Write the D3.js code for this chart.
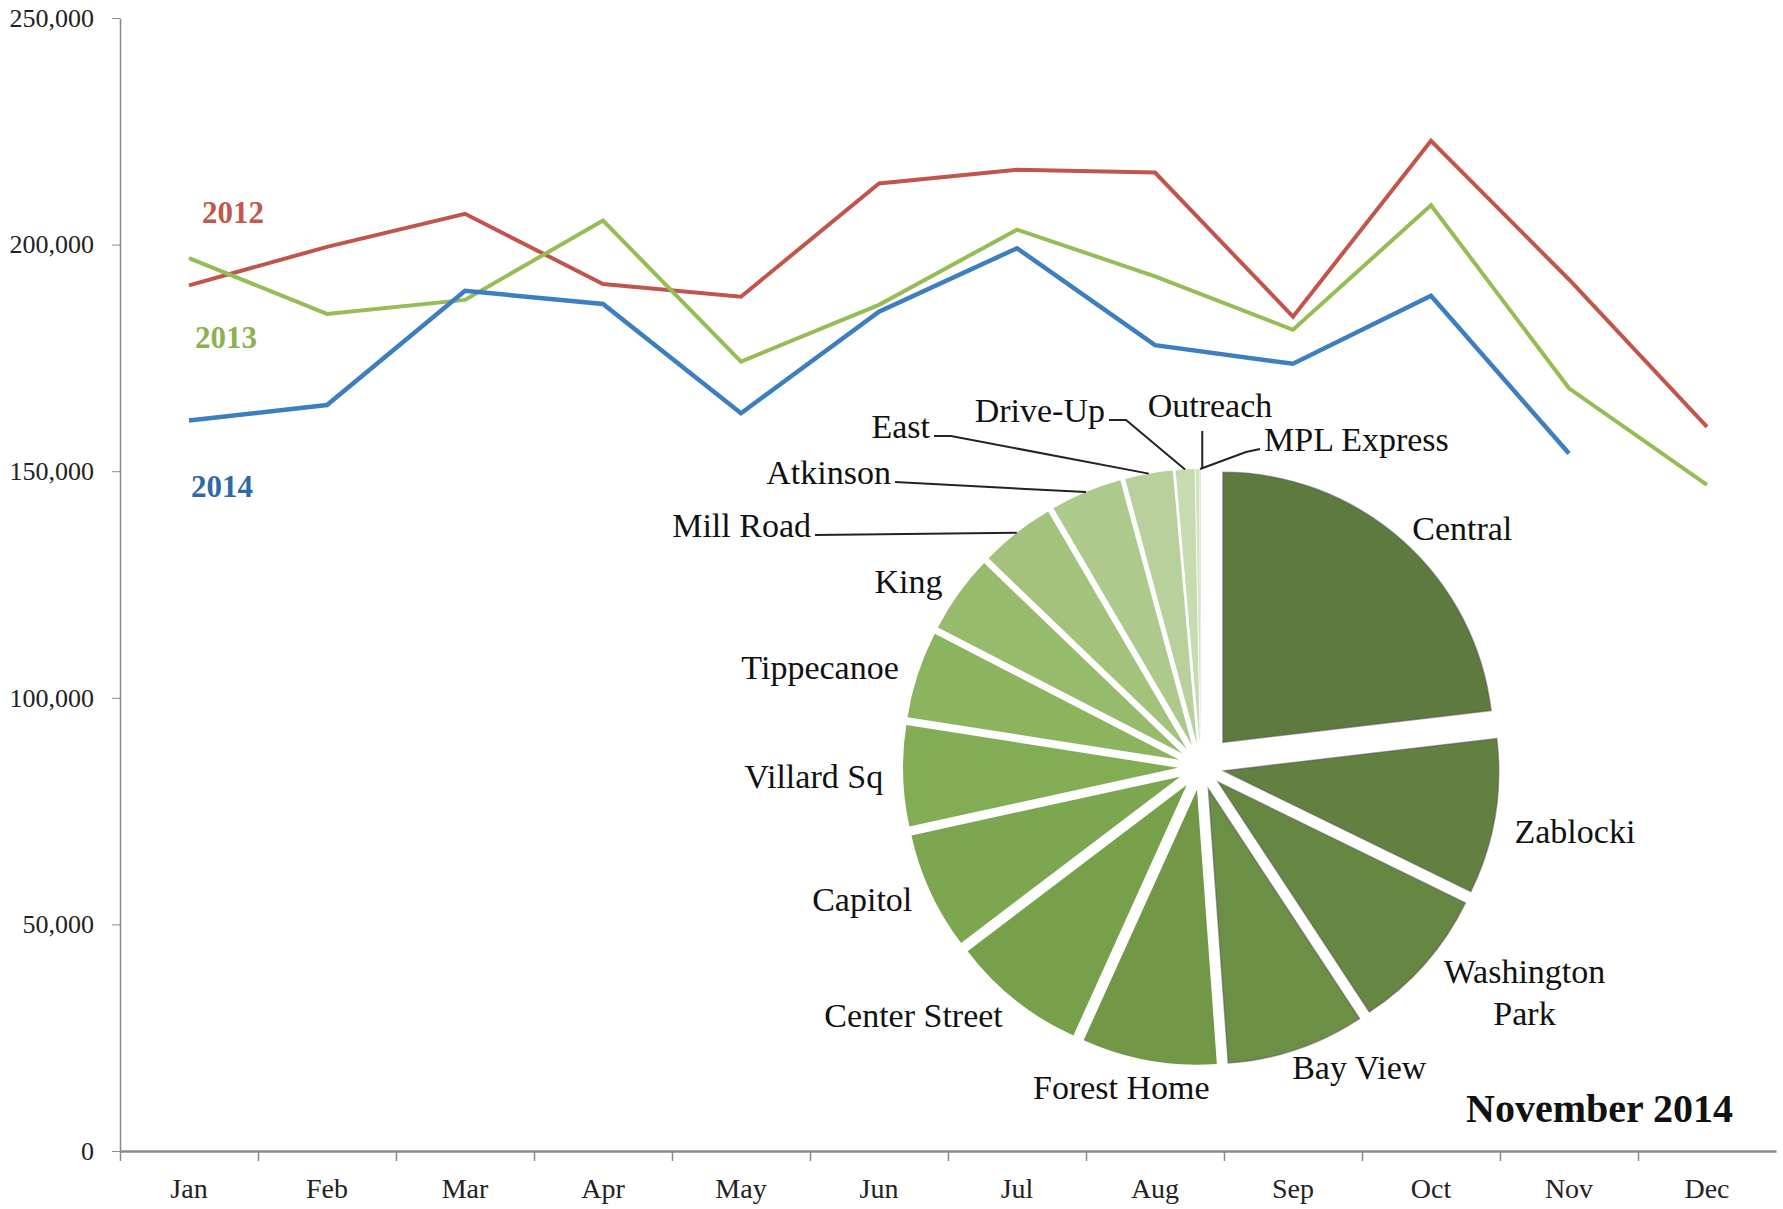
<!DOCTYPE html>
<html>
<head>
<meta charset="utf-8">
<title>Circulation by month</title>
<script src="https://d3js.org/d3.v7.min.js"></script>
<style>
  body { margin:0; background:#fff; }
  svg { display:block; font-family:"Liberation Serif", serif; }
  .axis path, .axis line { stroke:#8a8a8a; }
  .axis text { font-family:"Liberation Serif", serif; fill:#222; }
  .yaxis text { font-size:26px; }
  .xaxis text { font-size:28px; }
  .slice-label { font-size:34px; fill:#111; }
  .leader { fill:none; stroke:#222; stroke-width:2; }
</style>
</head>
<body>
<script>
"use strict";

// line chart data
var months = ["Jan", "Feb", "Mar", "Apr", "May", "Jun", "Jul", "Aug", "Sep", "Oct", "Nov", "Dec"];
var yTicks = [0, 50000, 100000, 150000, 200000, 250000];
var years = ["2012", "2013", "2014"];
var circ2012 = [191000, 199500, 206800, 191300, 188500, 213500, 216500, 215900, 184100, 222900, 192300, 159800];
var circ2013 = [197000, 184700, 187800, 205300, 174200, 186700, 203300, 193000, 181200, 208700, 168300, 147000];
var circ2014 = [161200, 164600, 189800, 186900, 162800, 185200, 199200, 177800, 173700, 188700, 153900];

// pie data (share of November 2014, %)
var branches = ["Central", "Zablocki", "Washington Park", "Bay View", "Forest Home", "Center Street",
  "Capitol", "Villard Sq", "Tippecanoe", "King", "Mill Road", "Atkinson", "East", "Drive-Up",
  "Outreach", "MPL Express"];
var shares = [23.1, 9.1, 8.5, 8.1, 7.9, 7.9, 6.9, 5.9, 5.1, 4.6, 4.4, 4.2, 2.8, 1.1, 0.2, 0.1];
var pieTitle = "November 2014";

// styles
var W = 1783, H = 1209;
var lineColors = ["#c2554b", "#96bd55", "#3c7ebf"];
var labelColors = ["#c0584c", "#8cb052", "#2e6aa6"];
var labelValues = [207000, 179400, 146500];   // vertical placement of the year labels
var labelShift = [3, -4, -8];                 // horizontal nudge of the year labels
var sliceColors = ["#5e7a3f", "#62803f", "#668741", "#6b8f45", "#729747", "#77a04b", "#7ca64f",
  "#83ad55", "#8cb45f", "#97bb6c", "#a3c37c", "#adc98c", "#b8d09c", "#c6dbaf", "#d2e3bf", "#dce9cd"];

var svg = d3.select("body").append("svg").attr("width", W).attr("height", H);

var x = d3.scaleBand().domain(months).range([120, 1776]);
var y = d3.scaleLinear().domain([0, 250000]).range([1151, 18]);
var bw = x.bandwidth();

// y axis
var yAxis = svg.append("g").attr("class", "axis yaxis").attr("transform", "translate(120,0)")
  .call(d3.axisLeft(y).tickValues(yTicks).tickFormat(d3.format(",")).tickSize(8).tickPadding(18).tickSizeOuter(0));
yAxis.select(".domain").attr("stroke-width", 1.5);

// x axis: tick marks on band edges, labels on band centres
var xEdges = d3.scaleLinear().domain([0, 12]).range([120, 1776]);
var xTicks = svg.append("g").attr("class", "axis").attr("transform", "translate(0,1151)")
  .call(d3.axisBottom(xEdges).tickValues(d3.range(0, 12)).tickFormat("").tickSize(10).tickSizeOuter(0));
xTicks.select(".domain").attr("stroke-width", 2.5);
xTicks.selectAll(".tick line").attr("stroke-width", 1.5);

var xLabels = svg.append("g").attr("class", "axis xaxis").attr("transform", "translate(0,1151)")
  .call(d3.axisBottom(x).tickSize(0).tickPadding(27));
xLabels.select(".domain").remove();

// lines
var series = [circ2012, circ2013, circ2014];
var line = d3.line()
  .x(function (d, i) { return x(months[i]) + bw / 2; })
  .y(function (d) { return y(d); });

svg.selectAll("path.series").data(series).enter().append("path")
  .attr("class", "series")
  .attr("d", line)
  .attr("fill", "none")
  .attr("stroke", function (d, i) { return lineColors[i]; })
  .attr("stroke-width", function (d, i) { return i === 2 ? 4.5 : 4; })
  .attr("stroke-linejoin", "miter");

svg.selectAll("text.year").data(years).enter().append("text")
  .attr("class", "year")
  .attr("x", function (d, i) { return x("Jan") + bw / 2 + 10 + labelShift[i]; })
  .attr("y", function (d, i) { return y(labelValues[i]); })
  .attr("dy", "0.33em")
  .attr("font-size", 31)
  .attr("font-weight", "bold")
  .attr("fill", function (d, i) { return labelColors[i]; })
  .text(function (d) { return d; });

// pie
var cx = 1201, cy = 767;
var pie = d3.pie().sort(null).value(function (d) { return d; });
var arcs = pie(shares);

function radiusOf(i) { return i === 0 ? 270 : 275; }
function explodeOf(i) { return i === 0 ? 33 : 23; }
function mid(a) { return (a.startAngle + a.endAngle) / 2; }

var pieG = svg.append("g").attr("transform", "translate(" + cx + "," + cy + ")");

pieG.selectAll("path.slice").data(arcs).enter().append("path")
  .attr("class", "slice")
  .attr("transform", function (d, i) {
    var m = mid(d), e = explodeOf(i);
    return "translate(" + (Math.sin(m) * e) + "," + (-Math.cos(m) * e) + ")";
  })
  .attr("d", function (d, i) { return d3.arc().innerRadius(0).outerRadius(radiusOf(i))(d); })
  .attr("fill", function (d, i) { return sliceColors[i]; })
  .attr("stroke", function (d, i) { return i < 4 ? "#555" : "none"; })
  .attr("stroke-opacity", 0.55)
  .attr("stroke-width", 1.5);

// point on the outer arc of a slice, in pie coordinates
function outerPoint(d, i) {
  var m = mid(d), r = radiusOf(i) + explodeOf(i);
  return [Math.sin(m) * r, -Math.cos(m) * r];
}

// labels with leader lines for the small slices at the top
var leaderLayout = {
  "Mill Road":   { dx: -390, dy: -230, anchor: "end", elbow: 0 },
  "Atkinson":    { dx: -310, dy: -283, anchor: "end", elbow: 0 },
  "East":        { dx: -271, dy: -329, anchor: "end", elbow: 17 },
  "Drive-Up":    { dx: -96,  dy: -345, anchor: "end", elbow: 17 },
  "Outreach":    { dx: 9,    dy: -350, anchor: "middle", elbow: 0 },
  "MPL Express": { dx: 63,   dy: -316, anchor: "start", elbow: 14 }
};
// small placement nudges for the outside labels
var labelNudge = {
  "Zablocki": [0, 12],
  "Washington Park": [4, 16],
  "Bay View": [-11, 0],
  "Forest Home": [-24, 8]
};
var twoLine = { "Washington Park": ["Washington", "Park"] };
var labelR = 318;

arcs.forEach(function (d, i) {
  var name = branches[i];
  var lay = leaderLayout[name];
  if (lay) {
    pieG.append("text").attr("class", "slice-label")
      .attr("x", lay.dx).attr("y", lay.dy)
      .attr("text-anchor", lay.anchor)
      .text(name);
    var p = outerPoint(d, i);
    var pts;
    if (lay.anchor === "end") {
      var sx = lay.dx + 4, sy = lay.dy - 2;
      pts = lay.elbow ? [[sx, sy], [sx + lay.elbow, sy], p] : [[sx, sy], p];
    } else if (lay.anchor === "start") {
      var tx = lay.dx - 4, ty = lay.dy - 2;
      pts = [[tx, ty], [tx - lay.elbow, ty + 3], p];
    } else {
      pts = [[p[0] + 5, lay.dy + 14], [p[0] + 5, p[1]]];
    }
    pieG.append("path").attr("class", "leader").attr("d", d3.line()(pts));
    return;
  }
  var m = mid(d), s = Math.sin(m);
  var nudge = labelNudge[name] || [0, 0];
  var px = s * labelR + nudge[0], py = -Math.cos(m) * labelR + nudge[1];
  var lines = twoLine[name] || [name];
  var t = pieG.append("text").attr("class", "slice-label").attr("text-anchor", "middle");
  var spans = lines.map(function (ln, k) {
    return t.append("tspan").attr("y", py + 11 + (k - (lines.length - 1) / 2) * 42).text(ln);
  });
  var w = d3.max(spans, function (sp) { return sp.node().getComputedTextLength(); });
  var left = s > 0.25 ? px : (s < -0.25 ? px - w : px - w / 2);
  spans.forEach(function (sp) { sp.attr("x", left + w / 2); });
});

svg.append("text")
  .attr("x", 1733).attr("y", 1122)
  .attr("text-anchor", "end")
  .attr("font-size", 40)
  .attr("font-weight", "bold")
  .attr("fill", "#111")
  .text(pieTitle);
</script>
</body>
</html>
